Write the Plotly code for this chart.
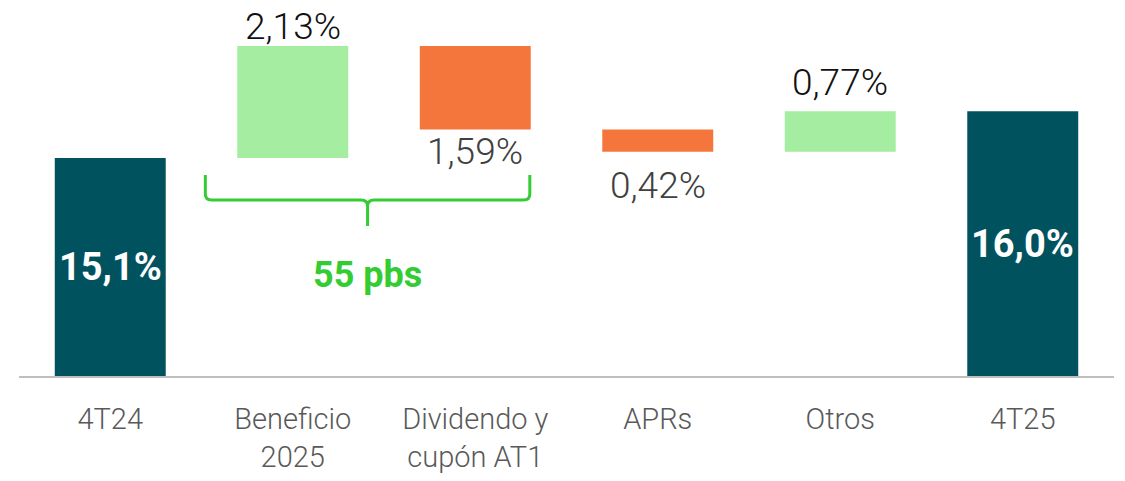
import numpy as np
import plotly.graph_objects as go

# Capital ratio bridge, 4T24 -> 4T25
categories = ["4T24", "Beneficio<br>2025", "Dividendo y<br>cupón AT1", "APRs", "Otros", "4T25"]
measures = ["absolute", "relative", "relative", "relative", "relative", "total"]
values = [15.1, 2.13, -1.59, -0.42, 0.77, None]
brace_text = "55 pbs"

# Styling
C_TOTAL = "#00525F"
C_UP = "#A5EDA1"
C_DOWN = "#F5763D"
C_BRACE = "#33CC33"
FONT = "Roboto"

Y_MIN, Y_MAX = 10.956, 18.104
PX_PER_UNIT = 376 / (Y_MAX - Y_MIN)

# running levels for label placement
steps = np.array([v for v in values if v is not None])
levels = np.cumsum(steps)
final_total = levels[-1]

fig = go.Figure()
fig.add_trace(go.Waterfall(
    x=categories,
    measure=measures,
    y=[v if v is not None else 0 for v in values],
    increasing=dict(marker=dict(color=C_UP)),
    decreasing=dict(marker=dict(color=C_DOWN)),
    totals=dict(marker=dict(color=C_TOTAL)),
    connector=dict(visible=False),
    hoverinfo="skip",
    textinfo="none",
))


def fmt(v, nd):
    return f"{v:.{nd}f}".replace(".", ",") + "%"


annotations = []

# totals: bold white label centred in the visible part of the bar
for idx, total in [(0, steps[0]), (5, final_total)]:
    annotations.append(dict(
        x=idx, y=(Y_MIN + total) / 2, xref="x", yref="y",
        text=fmt(total, 1), showarrow=False,
        font=dict(family=FONT, size=38, color="white", weight=700),
        xanchor="center", yanchor="middle",
    ))

# deltas: above rising bars, below falling bars
label_gap = {1: 19, 2: 22, 3: 34, 4: 29}
for i in range(1, 5):
    delta = steps[i]
    prev = levels[i - 1]
    top = max(prev, levels[i])
    bottom = min(prev, levels[i])
    if delta > 0:
        y = top
        shift = label_gap[i]
        color = "#111111"
    else:
        y = bottom
        shift = -label_gap[i]
        color = "#404040"
    annotations.append(dict(
        x=i, y=y, xref="x", yref="y", yshift=shift,
        text=fmt(abs(delta), 2), showarrow=False,
        font=dict(family=FONT, size=37, color=color, weight=300),
        xanchor="center", yanchor="middle",
    ))


def px_to_val(py):
    return Y_MIN + (376 - py) / PX_PER_UNIT


# brace grouping Beneficio and Dividendo
bx0, bxm, bx1 = 0.521, 1.41, 2.299
y_top, y_mid, y_tip = px_to_val(175), px_to_val(200), px_to_val(226)
rx, ry = 0.035, 6 / PX_PER_UNIT
path = (
    f"M {bx0},{y_top} L {bx0},{y_mid + ry} Q {bx0},{y_mid} {bx0 + rx},{y_mid} "
    f"L {bxm - rx},{y_mid} Q {bxm},{y_mid} {bxm},{y_mid - ry} L {bxm},{y_tip} "
    f"M {bxm},{y_mid - ry} Q {bxm},{y_mid} {bxm + rx},{y_mid} "
    f"L {bx1 - rx},{y_mid} Q {bx1},{y_mid} {bx1},{y_mid + ry} L {bx1},{y_top}"
)
shapes = [dict(type="path", xref="x", yref="y", path=path,
               line=dict(color=C_BRACE, width=3))]

annotations.append(dict(
    x=bxm, y=px_to_val(275), xref="x", yref="y",
    text=brace_text, showarrow=False,
    font=dict(family=FONT, size=36, color=C_BRACE, weight=700),
    xanchor="center", yanchor="middle",
))

fig.update_layout(
    width=1125, height=481,
    margin=dict(l=19, r=11, t=0, b=105),
    paper_bgcolor="white", plot_bgcolor="white",
    showlegend=False,
    waterfallgap=0.392,
    annotations=annotations,
    shapes=shapes,
    font=dict(family=FONT),
)
fig.update_xaxes(
    showline=True, linecolor="#BFBFBF", linewidth=2,
    showgrid=False, zeroline=False, ticks="",
    tickfont=dict(family=FONT, size=29, color="#595959", weight=300),
    ticklabelstandoff=16,
)
fig.update_yaxes(range=[Y_MIN, Y_MAX], visible=False, showgrid=False, zeroline=False)

fig.write_html("out.html")
